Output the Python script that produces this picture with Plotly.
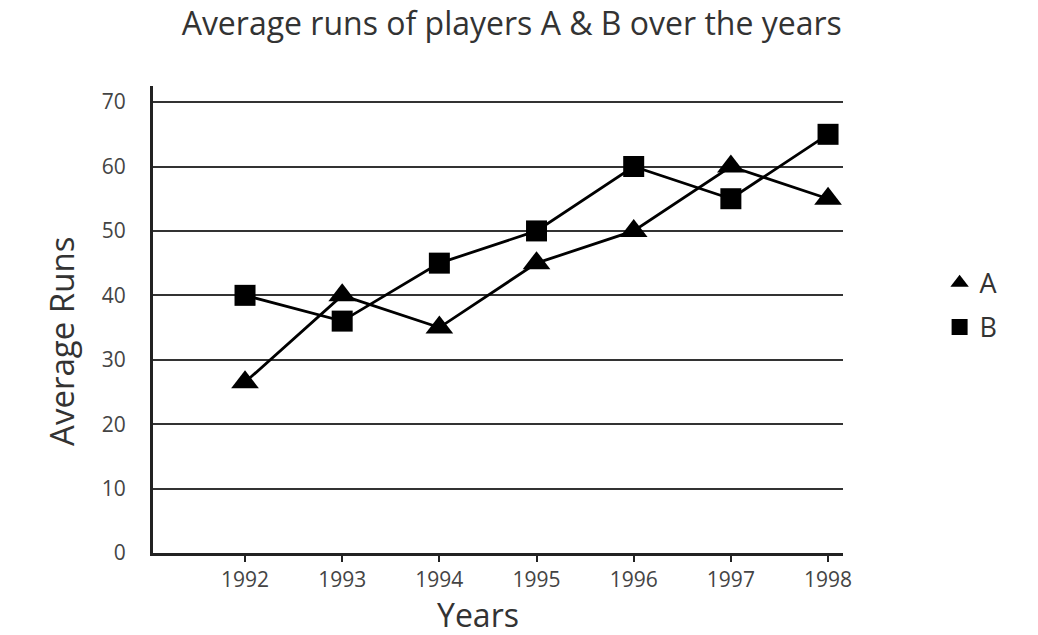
import plotly.graph_objects as go

years = [1992, 1993, 1994, 1995, 1996, 1997, 1998]
runs_a = [26.5, 40, 35, 45, 50, 60, 55]
runs_b = [40, 36, 45, 50, 60, 55, 65]
y_ticks = [0, 10, 20, 30, 40, 50, 60, 70]

FONT = "Open Sans"
fig = go.Figure()
fig.add_trace(go.Scatter(x=years, y=runs_a, mode="lines+markers", name="A", showlegend=False,
                         line=dict(color="black", width=2.8),
                         marker=dict(symbol="triangle-up", size=24, color="black")))
fig.add_trace(go.Scatter(x=years, y=runs_b, mode="lines+markers", name="B", showlegend=False,
                         line=dict(color="black", width=2.8),
                         marker=dict(symbol="square", size=21, color="black")))
fig.add_trace(go.Scatter(x=[None], y=[None], mode="markers", name="A", legendgroup="a",
                         marker=dict(symbol="triangle-up", size=18, color="black")))
fig.add_trace(go.Scatter(x=[None], y=[None], mode="markers", name="B", legendgroup="b",
                         marker=dict(symbol="square", size=18, color="black")))

fig.update_layout(
    width=1038, height=635,
    margin=dict(l=153, r=195, t=86, b=82),
    paper_bgcolor="white", plot_bgcolor="white",
    font=dict(family=FONT, color="#333"),
    title=dict(text="Average runs of players A & B over the years", x=0.493, xanchor="center",
               y=0.962, yanchor="middle", font=dict(size=32, color="#333")),
    legend=dict(x=1.14, xanchor="left", y=0.63, yanchor="top", font=dict(size=27, color="#333"),
                itemsizing="trace", tracegroupgap=6, bgcolor="rgba(0,0,0,0)"),
    xaxis=dict(range=[1991.053, 1998.154], tickvals=years, ticktext=[str(y) for y in years],
               showgrid=False, zeroline=False, showline=True, linecolor="#222", linewidth=3,
               ticks="outside", ticklen=6, tickwidth=2, tickcolor="#222",
               tickfont=dict(size=21, color="#444")),
    yaxis=dict(range=[0, 72.5], tickvals=y_ticks, showgrid=True, gridcolor="#333", gridwidth=1.5,
               zeroline=False, showline=True, linecolor="#222", linewidth=3, ticks="",
               ticklabelstandoff=20, tickfont=dict(size=21, color="#444")),
    annotations=[
        dict(text="Years", xref="paper", yref="paper", x=0.471, y=-0.131,
             xanchor="center", yanchor="middle", showarrow=False,
             font=dict(size=32, color="#333")),
        dict(text="Average Runs", xref="paper", yref="paper", x=-0.132, y=0.454,
             xanchor="center", yanchor="middle", textangle=-90, showarrow=False,
             font=dict(size=33, color="#333")),
    ],
)
fig.write_html("out.html")
